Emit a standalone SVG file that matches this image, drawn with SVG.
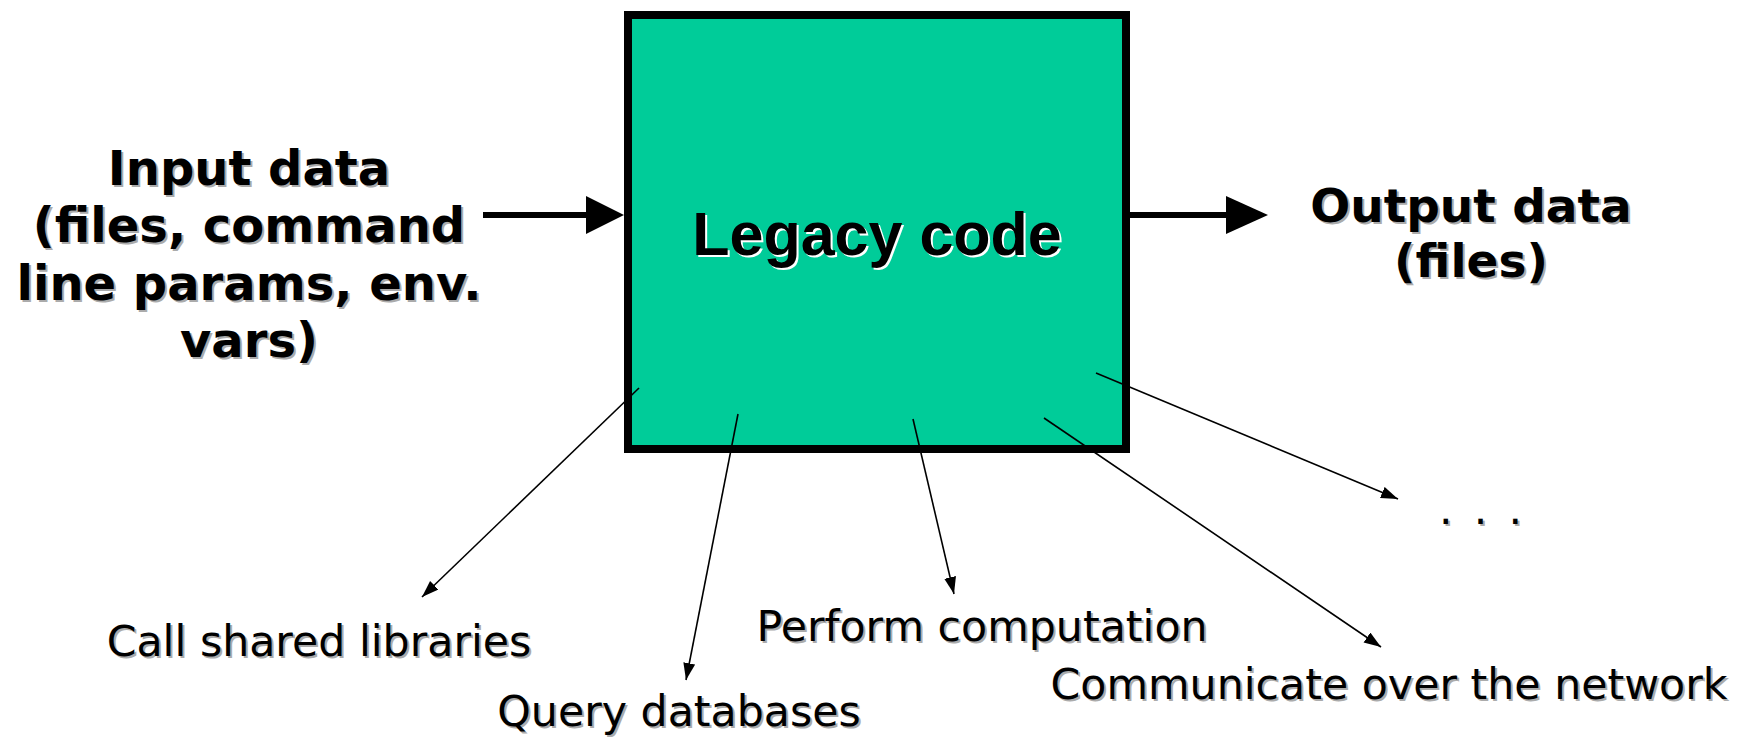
<svg xmlns="http://www.w3.org/2000/svg" width="1740" height="737" viewBox="0 0 1740 737">
<style>
.big{font-family:"DejaVu Sans",Verdana,sans-serif;font-weight:bold;font-size:48px;text-anchor:middle}
.out{font-size:47px}
.lbl{font-family:"DejaVu Sans",Verdana,sans-serif;font-size:42.7px;text-anchor:middle}
.title{font-family:"Liberation Sans",Arial,sans-serif;font-weight:bold;font-size:61px;text-anchor:middle}
.sh{fill:#ababab}
.thin{stroke:#000;stroke-width:1.6;fill:none;marker-end:url(#ah)}
.thick{stroke:#000;stroke-width:6;fill:none}
</style>
<defs>
<marker id="ah" markerUnits="userSpaceOnUse" markerWidth="20" markerHeight="14" refX="17" refY="6" orient="auto">
<path d="M0,0 L17,6 L0,12 Z" fill="#000"/>
</marker>
</defs>
<rect width="1740" height="737" fill="#fff"/>
<g id="legacy">
<rect x="628" y="15" width="498" height="434" fill="#00CC99" stroke="#000" stroke-width="8"/>
<text class="title" x="879" y="257" fill="#fff">Legacy code</text>
<text class="title" x="877" y="255" fill="#000">Legacy code</text>
</g>
<g id="input">
<g class="big sh" transform="translate(2,2)">
<text x="249" y="185">Input data</text>
<text x="249" y="242">(files, command</text>
<text x="249" y="300">line params, env.</text>
<text x="249" y="357">vars)</text>
</g>
<g class="big">
<text x="249" y="185">Input data</text>
<text x="249" y="242">(files, command</text>
<text x="249" y="300">line params, env.</text>
<text x="249" y="357">vars)</text>
</g>
</g>
<g id="output">
<g class="big out sh" transform="translate(2,2)">
<text x="1471" y="222">Output data</text>
<text x="1471" y="277">(files)</text>
</g>
<g class="big out">
<text x="1471" y="222">Output data</text>
<text x="1471" y="277">(files)</text>
</g>
</g>
<g id="libs">
<text class="lbl sh" x="321" y="658">Call shared libraries</text>
<text class="lbl" x="319" y="656">Call shared libraries</text>
</g>
<g id="db">
<text class="lbl sh" x="681" y="728">Query databases</text>
<text class="lbl" x="679" y="726">Query databases</text>
</g>
<g id="compute">
<text class="lbl sh" x="984" y="643">Perform computation</text>
<text class="lbl" x="982" y="641">Perform computation</text>
</g>
<g id="network">
<text class="lbl sh" x="1391" y="701">Communicate over the network</text>
<text class="lbl" x="1389" y="699">Communicate over the network</text>
</g>
<g id="more">
<text class="lbl sh" x="1441" y="526" textLength="83" style="text-anchor:start">. . .</text>
<text class="lbl" x="1439" y="524" textLength="83" style="text-anchor:start">. . .</text>
</g>
<g id="connectors">
<line class="thick" x1="483" y1="215" x2="590" y2="215"/>
<polygon points="586,196 624,215 586,234" fill="#000"/>
<line class="thick" x1="1130" y1="215" x2="1230" y2="215"/>
<polygon points="1226,196 1268,215 1226,234" fill="#000"/>
<line class="thin" x1="639" y1="388" x2="422" y2="597"/>
<line class="thin" x1="738" y1="414" x2="686" y2="680"/>
<line class="thin" x1="913" y1="419" x2="954" y2="594"/>
<line class="thin" x1="1044" y1="418" x2="1381" y2="647"/>
<line class="thin" x1="1096" y1="373" x2="1398" y2="499"/>
</g>
</svg>
